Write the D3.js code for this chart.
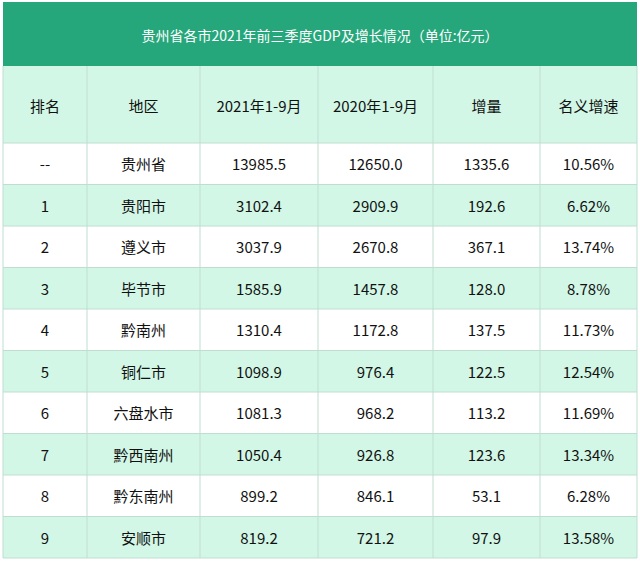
<!DOCTYPE html>
<html><head><meta charset="utf-8">
<script src="https://cdn.jsdelivr.net/npm/d3@7"></script>
<style>body{margin:0;background:#fff}</style>
</head><body>
<svg id="c" width="640" height="561"></svg>
<script>
const title = '贵州省各市2021年前三季度GDP及增长情况（单位:亿元）';
const headers = ['排名', '地区', '2021年1-9月', '2020年1-9月', '增量', '名义增速'];
const ranks = ['--', '1', '2', '3', '4', '5', '6', '7', '8', '9'];
const regions = ['贵州省', '贵阳市', '遵义市', '毕节市', '黔南州', '铜仁市', '六盘水市', '黔西南州', '黔东南州', '安顺市'];
const gdp2021 = ['13985.5', '3102.4', '3037.9', '1585.9', '1310.4', '1098.9', '1081.3', '1050.4', '899.2', '819.2'];
const gdp2020 = ['12650.0', '2909.9', '2670.8', '1457.8', '1172.8', '976.4', '968.2', '926.8', '846.1', '721.2'];
const increase = ['1335.6', '192.6', '367.1', '128.0', '137.5', '122.5', '113.2', '123.6', '53.1', '97.9'];
const growth = ['10.56%', '6.62%', '13.74%', '8.78%', '11.73%', '12.54%', '11.69%', '13.34%', '6.28%', '13.58%'];

const svg = d3.select('#c');
const font = '"Noto Sans CJK SC", "Noto Sans", sans-serif';
const colEdges = [3, 87, 200, 318, 433, 540, 637];
const rows = ranks.map((r, i) => [r, regions[i], gdp2021[i], gdp2020[i], increase[i], growth[i]]);
const y = d3.scaleBand().domain(d3.range(rows.length)).range([143, 558]);

// title band
svg.append('rect').attr('x', 3).attr('y', 2).attr('width', 634).attr('height', 64).attr('fill', '#26a77b');
svg.append('text').attr('x', 320).attr('y', 35).attr('text-anchor', 'middle').attr('dominant-baseline', 'central')
  .attr('fill', '#fff').attr('font-family', font).attr('font-size', 14).text(title);

// header
svg.append('rect').attr('x', 3).attr('y', 66).attr('width', 634).attr('height', 77).attr('fill', '#d2f7e6');
svg.selectAll('.h').data(headers).enter().append('text')
  .attr('x', (d, i) => (colEdges[i] + colEdges[i + 1]) / 2).attr('y', 105)
  .attr('text-anchor', 'middle').attr('dominant-baseline', 'central')
  .attr('font-family', font).attr('font-size', 15).attr('fill', '#111').text(d => d);

// body
const g = svg.selectAll('.r').data(rows).enter().append('g');
g.append('rect').attr('x', 3).attr('y', (d, i) => y(i)).attr('width', 634).attr('height', y.bandwidth())
  .attr('fill', (d, i) => i % 2 ? '#d2f7e6' : '#fff');
g.selectAll('text').data((d, i) => d.map(v => [v, i])).enter().append('text')
  .attr('x', (d, j) => (colEdges[j] + colEdges[j + 1]) / 2)
  .attr('y', d => y(d[1]) + y.bandwidth() / 2)
  .attr('text-anchor', 'middle').attr('dominant-baseline', 'central')
  .attr('font-family', font).attr('font-size', 15).attr('fill', '#111').text(d => d[0]);

// grid lines
const line = '#bfded1';
svg.selectAll('.hl').data(d3.range(rows.length + 1)).enter().append('line')
  .attr('x1', 3).attr('x2', 637)
  .attr('y1', i => i < rows.length ? y(i) : 558).attr('y2', i => i < rows.length ? y(i) : 558)
  .attr('stroke', line);
svg.selectAll('.vl').data(colEdges).enter().append('line')
  .attr('x1', d => d).attr('x2', d => d).attr('y1', 66).attr('y2', 558).attr('stroke', line);
</script>
</body></html>
